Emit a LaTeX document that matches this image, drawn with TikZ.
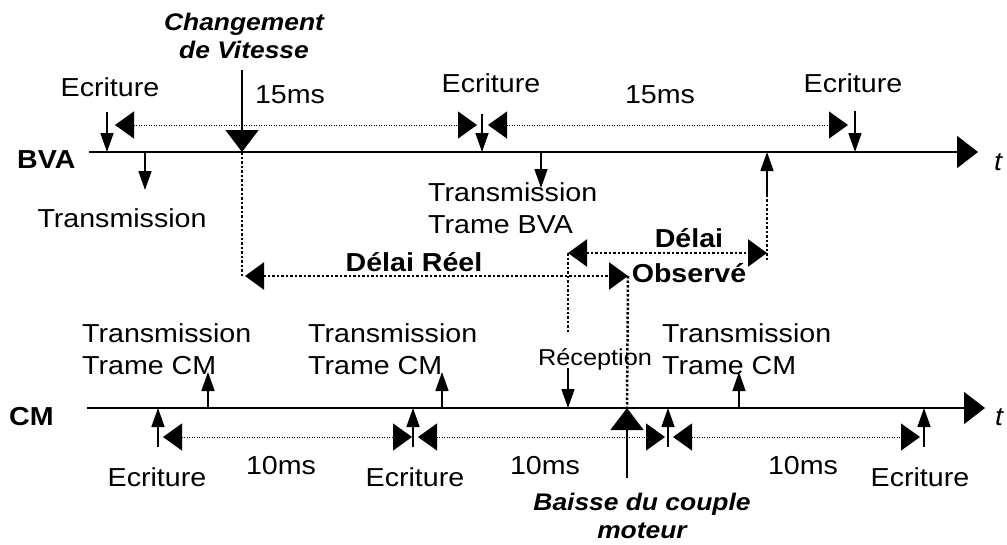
\documentclass[tikz,border=0pt]{standalone}
\usepackage{fontspec}
\setmainfont{Liberation Sans}[FakeStretch=1.1]
\usetikzlibrary{arrows.meta}

\tikzset{
  axe/.style={line width=2pt,-{Triangle[length=21pt,width=32pt]}},
  evt/.style={line width=1.5pt,-{Triangle[length=19pt,width=13pt]}},
  gros/.style={line width=1.5pt,-{Triangle[length=22pt,width=33pt]}},
  periode/.style={line width=1pt,dash pattern=on 1pt off 1.5pt,
    {Triangle[length=19pt,width=27pt]}-{Triangle[length=19pt,width=27pt]}},
  delai/.style={line width=2.5pt,dash pattern=on 2.5pt off 2pt},
  delaifl/.style={delai,{Triangle[length=19pt,width=27pt]}-{Triangle[length=19pt,width=27pt]}},
  lbl/.style={inner sep=0pt,font=\fontsize{26}{32}\selectfont,align=left},
  titre/.style={inner sep=0pt,font=\fontsize{26}{35}\selectfont\bfseries,align=center},
  evnt/.style={inner sep=0pt,font=\fontsize{24}{28}\selectfont\bfseries\itshape,align=center},
}

\begin{document}
\begin{tikzpicture}[x=1pt,y=-1pt]
\useasboundingbox (0,0) rectangle (1007,544);

% les deux axes de temps
\coordinate (bva0) at (89,152);
\coordinate (bva1) at (978,152);
\coordinate (cm0) at (87,408);
\coordinate (cm1) at (985,408);
\draw[axe] (bva0) -- (bva1);
\draw[axe] (cm0) -- (cm1);
\node[titre,anchor=base west] (nbva) at (17,168) {BVA};
\node[titre,anchor=base west] (ncm) at (9,425) {CM};
\node[lbl,font=\fontsize{26}{32}\selectfont\itshape,anchor=base west] (tbva) at (994,170) {t};
\node[lbl,font=\fontsize{26}{32}\selectfont\itshape,anchor=base west] (tcm) at (995,425) {t};

% BVA : ecritures
\foreach \x/\yh/\lx/\ly/\n in {107/112/110/77/1,482/114/491/73/2,855/111/853/73/3}{
  \coordinate (ebva\n h) at (\x,\yh);
  \coordinate (ebva\n b) at (\x,152);
  \draw[evt] (ebva\n h) -- (ebva\n b);
  \node[lbl,anchor=north] (lebva\n) at (\lx,\ly) {Ecriture};
}
\coordinate (p1a) at (115,125);
\coordinate (p1b) at (477,125);
\coordinate (p2a) at (488,125);
\coordinate (p2b) at (848,125);
\draw[periode] (p1a) -- (p1b);
\draw[periode] (p2a) -- (p2b);
\node[lbl,anchor=north] (q1) at (290,85) {15ms};
\node[lbl,anchor=north] (q2) at (660,85) {15ms};

% BVA : transmissions
\coordinate (tr1h) at (145,152);
\coordinate (tr1b) at (145,190);
\coordinate (tr2h) at (541,152);
\coordinate (tr2b) at (541,188);
\draw[evt] (tr1h) -- (tr1b);
\draw[evt] (tr2h) -- (tr2b);
\node[lbl,anchor=north] (ltr1) at (122,208) {Transmission};
\node[lbl,anchor=north west] (ltr2) at (428,182) {Transmission\\Trame BVA};

% changement de vitesse
\coordinate (chgh) at (242,70);
\coordinate (chgb) at (242,152);
\draw[gros] (chgh) -- (chgb);
\node[evnt,anchor=north] (chgt) at (244,13) {Changement\\de Vitesse};

% CM : ecritures
\foreach \x/\n in {158/1,413/2,668/3,924/4}{
  \coordinate (ecm\n b) at (\x,447);
  \coordinate (ecm\n h) at (\x,408);
  \draw[evt] (ecm\n b) -- (ecm\n h);
}
\node[lbl,anchor=north] (lecm1) at (157,467) {Ecriture};
\node[lbl,anchor=north] (lecm2) at (415,467) {Ecriture};
\node[lbl,anchor=north] (lecm4) at (920,467) {Ecriture};
\coordinate (c1a) at (163,437);
\coordinate (c1b) at (412,437);
\coordinate (c2a) at (418,437);
\coordinate (c2b) at (665,437);
\coordinate (c3a) at (673,437);
\coordinate (c3b) at (920,437);
\draw[periode] (c1a) -- (c1b);
\draw[periode] (c2a) -- (c2b);
\draw[periode] (c3a) -- (c3b);
\node[lbl,anchor=north] (d1) at (281,456) {10ms};
\node[lbl,anchor=north] (d2) at (545,456) {10ms};
\node[lbl,anchor=north] (d3) at (803,456) {10ms};

% CM : transmissions
\foreach \x/\lx/\n in {208/82/1,442/308/2,739/662/3}{
  \coordinate (tcm\n b) at (\x,408);
  \coordinate (tcm\n h) at (\x,372);
  \draw[evt] (tcm\n b) -- (tcm\n h);
  \node[lbl,anchor=north west] (ltcm\n) at (\lx,323) {Transmission\\Trame CM};
}

% reception
\coordinate (rech) at (568,368);
\coordinate (recb) at (568,408);
\draw[evt] (rech) -- (recb);
\node[lbl,font=\fontsize{23}{28}\selectfont,anchor=base] (lrec) at (595,365) {Réception};

% baisse du couple
\coordinate (baib) at (627,478);
\coordinate (baih) at (627,408);
\draw[gros] (baib) -- (baih);
\node[evnt,anchor=north] (baisse) at (642,493) {Baisse du couple\\moteur};

% delai reel
\coordinate (dr0) at (242,276);
\coordinate (dr1) at (245,276);
\coordinate (dr2) at (628,276);
\draw[delai] (chgb) -- (dr0);
\draw[delaifl] (dr1) -- (dr2);
\draw[delai] (dr2) -- (baih);
\node[titre,anchor=north] (lreel) at (414,252) {Délai Réel};

% delai observe
\coordinate (do1) at (568,253);
\coordinate (do2) at (767,253);
\coordinate (do3) at (767,260);
\coordinate (do4) at (767,197);
\coordinate (do5) at (568,332);
\coordinate (obsh) at (767,152);
\draw[delaifl] (do1) -- (do2);
\draw[delai] (do1) -- (do5);
\draw[delai] (do3) -- (do4);
\draw[evt] (do4) -- (obsh);
\node[titre,anchor=north] (lobs) at (689,228) {Délai\\Observé};
\end{tikzpicture}
\end{document}
